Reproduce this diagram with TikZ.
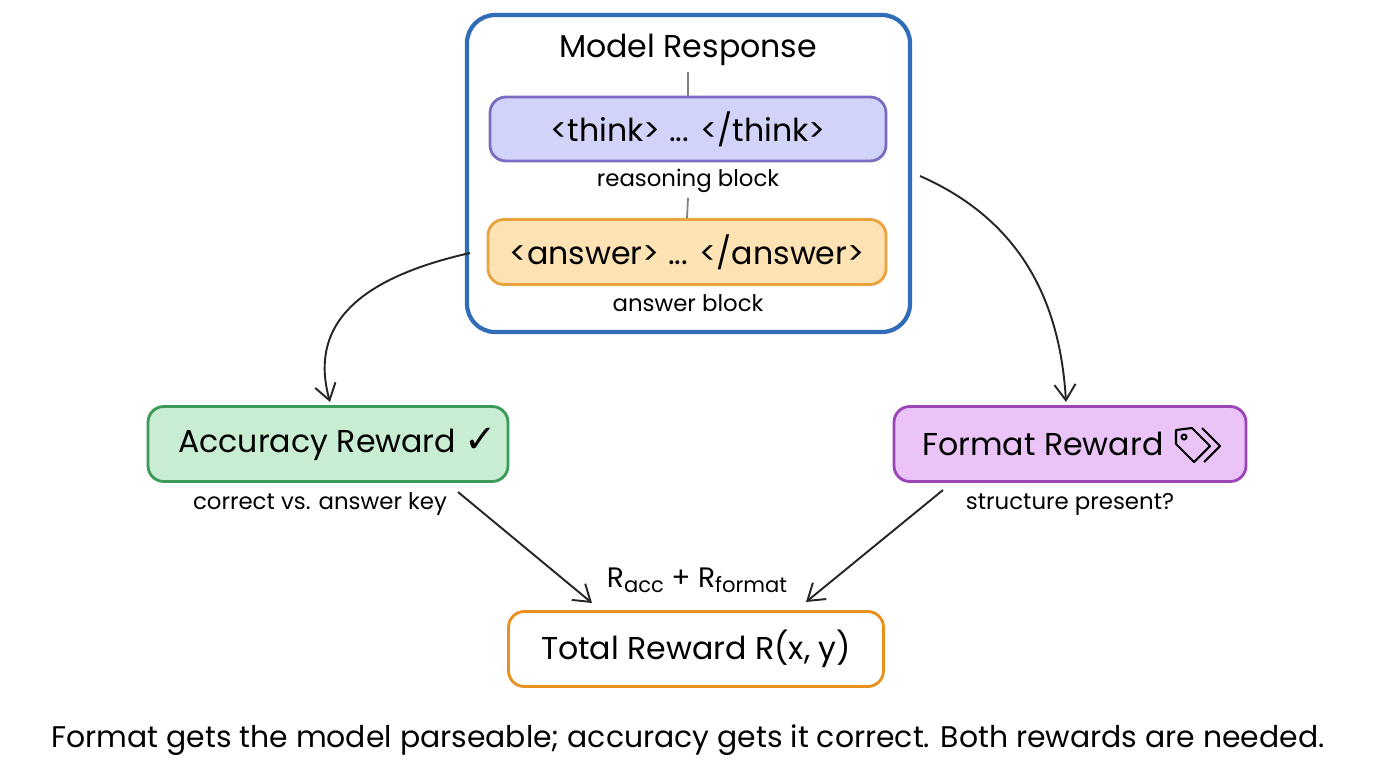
\documentclass[tikz,border=0pt]{standalone}
\usepackage{fontspec}
\setmainfont{Poppins}
\newfontfamily\symf{DejaVu Sans}
\usetikzlibrary{arrows.meta}
\definecolor{bluebd}{HTML}{2F6DB8}
\definecolor{thinkf}{HTML}{D2D3F8}
\definecolor{thinkd}{HTML}{7A6CC0}
\definecolor{ansf}{HTML}{FDE2B4}
\definecolor{ansd}{HTML}{E9A23C}
\definecolor{accf}{HTML}{C9EDD2}
\definecolor{accd}{HTML}{3C9A58}
\definecolor{fmtf}{HTML}{EAC4F6}
\definecolor{fmtd}{HTML}{9A44B8}
\definecolor{totd}{HTML}{E8901A}
\tikzset{
 box/.style={draw, line width=1.6pt, rounded corners=9pt, inner sep=0pt},
 lbl/.style={font=\fontsize{13}{15}\selectfont},
 big/.style={font=\fontsize{18}{22}\selectfont},
 arr/.style={-{Straight Barb[length=9pt,width=12pt]}, line width=1.1pt, black!85},
}
\begin{document}
\begin{tikzpicture}[x=0.02cm,y=-0.02cm]
\useasboundingbox (0,0) rectangle (1376,768);
\fill[white] (0,0) rectangle (1376,768);
% outer
\draw[bluebd, line width=2.4pt, rounded corners=16pt] (467,15) rectangle (910,332);
\node[big] (title) at (688,50) {Model Response};
\node[box, draw=thinkd, fill=thinkf, minimum width=396*0.02cm, minimum height=64*0.02cm, big] (think) at (688,129) {<think> ... </think>};
\node[lbl] (rb) at (688,181) {reasoning block};
\node[box, draw=ansd, fill=ansf, minimum width=398*0.02cm, minimum height=65*0.02cm, big] (ans) at (687,252) {<answer> ... </answer>};
\node[lbl] (ab) at (688,303) {answer block};
\draw[gray, line width=1pt] (688,72) -- (think.north);
\draw[gray, line width=1pt] (688,198) -- (ans.north);
% rewards
\node[box, draw=accd, fill=accf, minimum width=360*0.02cm, minimum height=75*0.02cm] (acc) at (328,444) {};
\node[big, anchor=west] at (172,444) {Accuracy Reward {\symf\fontsize{22}{22}\selectfont ✓}};
\node[lbl] (accl) at (320,504) {correct vs. answer key};
\node[box, draw=fmtd, fill=fmtf, minimum width=352*0.02cm, minimum height=75*0.02cm] (fmt) at (1070,444) {};
\node[big, anchor=west] (fmtt) at (916,444) {Format Reward};
% tag icon
\draw[line width=1.2pt, line join=round] (1176,430) -- (1192,428) -- (1210,446) -- (1194,462) -- (1176,444) -- cycle;
\draw[line width=1.1pt] (1184,437) circle (2.5);
\draw[line width=1.2pt, line join=round] (1202,428) -- (1220,446) -- (1204,462);
\node[lbl] (fmtl) at (1070,504) {structure present?};
% total
\node[box, draw=totd, fill=white, minimum width=375*0.02cm, minimum height=75*0.02cm, big] (tot) at (696,649) {Total Reward R(x, y)};
\node[font=\fontsize{16}{20}\selectfont] (sum) at (697,580) {R\raisebox{-0.35ex}{\fontsize{12}{15}\selectfont acc} + R\raisebox{-0.35ex}{\fontsize{12}{15}\selectfont format}};
% arrows
\coordinate (a1) at (470,253);
\coordinate (a1e) at (330,402);
\draw[arr] (a1) .. controls (350,280) and (310,330) .. (a1e);
\coordinate (a2) at (920,176);
\coordinate (a2e) at (1066,402);
\draw[arr] (a2) .. controls (1020,220) and (1060,300) .. (a2e);
\coordinate (a3) at (458,492);
\coordinate (a3e) at (592,603);
\draw[arr] (a3) -- (a3e);
\coordinate (a4) at (943,490);
\coordinate (a4e) at (806,602);
\draw[arr] (a4) -- (a4e);
\node[font=\fontsize{17}{22}\selectfont] (cap) at (688,740) {Format gets the model parseable; accuracy gets it correct. Both rewards are needed.};
\end{tikzpicture}
\end{document}
